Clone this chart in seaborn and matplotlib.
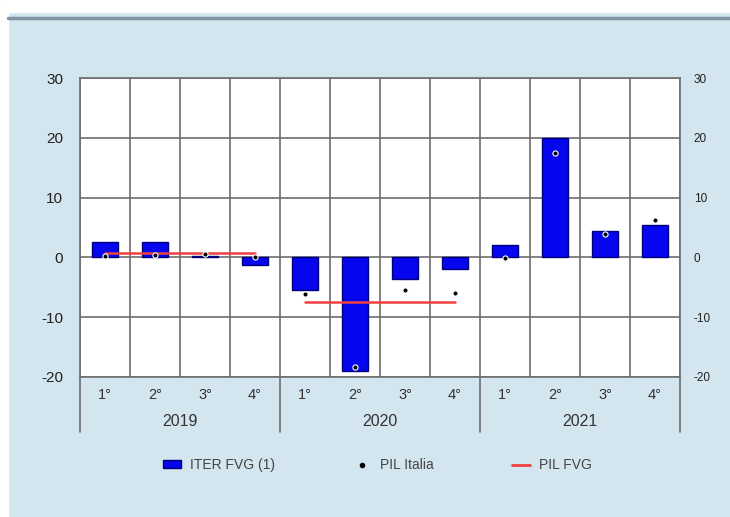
import numpy as np
import pandas as pd
import seaborn as sns
import matplotlib.pyplot as plt
from matplotlib.lines import Line2D
from matplotlib.patches import Patch

years = ['2019', '2020', '2021']
quarters = ['1°', '2°', '3°', '4°']
iter_fvg = [2.5, 2.5, 0.3, -1.3, -5.5, -19.0, -3.6, -2.0, 2.0, 20.0, 4.5, 5.4]
pil_italia = [0.3, 0.4, 0.5, 0.0, -6.1, -18.4, -5.4, -6.0, -0.1, 17.5, 4.0, 6.3]
pil_fvg = [0.8, -7.5, np.nan]

BG = '#d3e5ee'
BLUE = '#0505ee'
RED = '#f04040'
GRID = '#6e6e6e'

df = pd.DataFrame({
    'year': np.repeat(years, 4),
    'quarter': quarters * 3,
    'iter': iter_fvg,
    'pil': pil_italia,
})
df['pos'] = np.arange(len(df))
df['label'] = df['year'] + '-' + df['quarter']
df['pil_fvg'] = df['year'].map(dict(zip(years, pil_fvg)))

sns.set_style('white')
plt.rcParams['font.family'] = ['Liberation Sans', 'DejaVu Sans']
plt.rcParams['axes.unicode_minus'] = False

fig = plt.figure(figsize=(7.3, 5.17), dpi=100, facecolor=BG)
# white strips top/left and dark rule
fig.patches.append(plt.Rectangle((0, 0.977), 1, 0.023, transform=fig.transFigure, color='white', zorder=0))
fig.patches.append(plt.Rectangle((0, 0), 0.011, 1, transform=fig.transFigure, color='white', zorder=0))
fig.add_artist(Line2D([0.011, 1], [0.965, 0.965], color='#7d95a5', lw=2.5))

ax = fig.add_axes([0.1096, 0.2708, 0.8219, 0.5782])
ax.set_facecolor('white')

sns.barplot(data=df, x='label', y='iter', color=BLUE, width=0.53,
            edgecolor='#00007a', linewidth=1, saturation=1, ax=ax, zorder=3)

ax.scatter(df['pos'], df['pil'], s=14, color='black', edgecolor='white',
           linewidth=0.8, zorder=5)

sns.lineplot(data=df.dropna(subset=['pil_fvg']), x='pos', y='pil_fvg', units='year',
             estimator=None, color=RED, lw=1.8, ax=ax, zorder=4, legend=False)

ax.set_xlim(-0.5, 11.5)
ax.set_ylim(-20, 30)
ax.set_yticks(range(-20, 31, 10))
ax.set_xticks(range(12))
ax.set_xticks(np.arange(-0.5, 12, 1), minor=True)
ax.set_xticklabels(quarters * 3, fontsize=10.5, color='#333333')
ax.tick_params(axis='x', which='both', length=0, pad=8)
ax.tick_params(axis='y', labelsize=11, length=0, pad=12, colors='#222222')
ax.set_xlabel('')
ax.set_ylabel('')

ax.grid(True, axis='y', which='major', color=GRID, lw=1.2, zorder=1)
ax.grid(True, axis='x', which='minor', color=GRID, lw=1.2, zorder=1)
ax.set_axisbelow(True)
for s in ax.spines.values():
    s.set_color(GRID)
    s.set_linewidth(1.2)

ax2 = ax.twinx()
ax2.set_ylim(ax.get_ylim())
ax2.set_yticks(range(-20, 31, 10))
ax2.tick_params(axis='y', labelsize=8.5, length=0, pad=10, colors='#222222')
for s in ax2.spines.values():
    s.set_visible(False)

# year labels and separators
trans = ax.get_xaxis_transform()
for i, y in enumerate(years):
    ax.text(4 * i + 1.5, -0.15, y, transform=trans, ha='center', va='center',
            fontsize=11.5, color='#333333')
for b in [-0.5, 3.5, 7.5, 11.5]:
    ax.add_line(Line2D([b, b], [0, -0.185], transform=trans, color=GRID, lw=1.2, clip_on=False))

handles = [
    Patch(facecolor=BLUE, edgecolor='#00007a'),
    Line2D([], [], marker='o', ls='', color='black', markersize=3),
    Line2D([], [], color=RED, lw=2),
]
fig.legend(handles, ['ITER FVG (1)', 'PIL Italia', 'PIL FVG'], loc='center',
           bbox_to_anchor=(0.517, 0.1), ncol=3, frameon=False, fontsize=10,
           handlelength=1.3, handleheight=0.5, handletextpad=0.65,
           columnspacing=5.6, labelcolor='#444444')

fig.savefig('out.png', dpi=100, facecolor=BG)
